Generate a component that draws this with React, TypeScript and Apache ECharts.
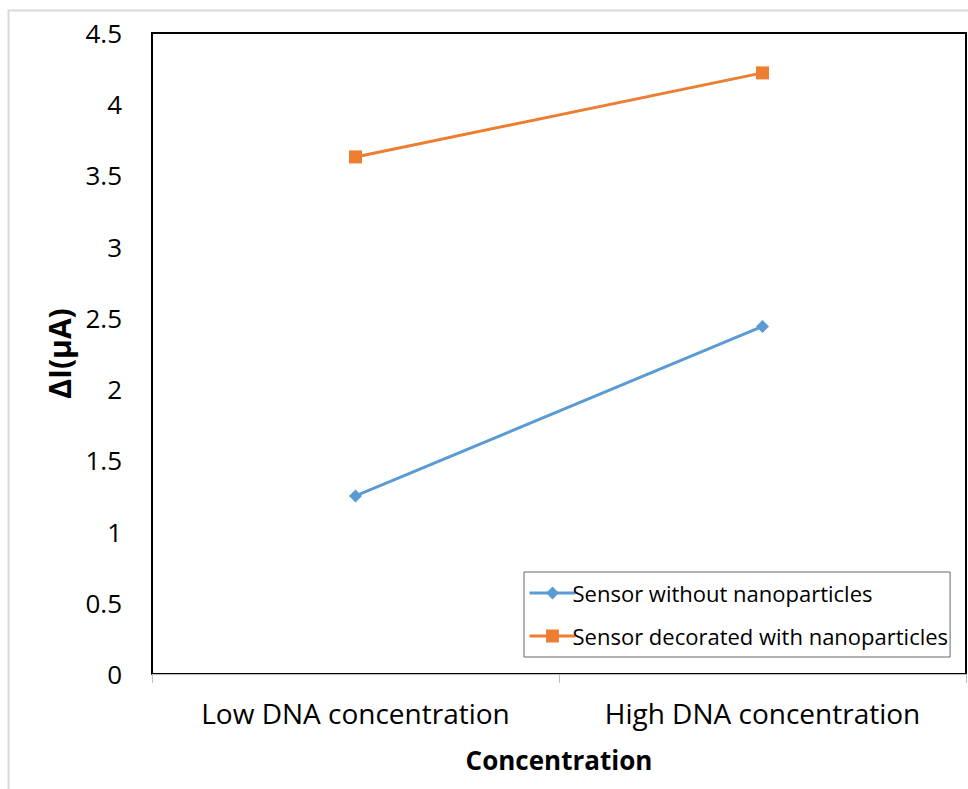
import React, { useEffect, useRef } from "react";
import * as echarts from "echarts";

const categories = ["Low DNA concentration", "High DNA concentration"];
const withoutNano = [1.25, 2.44];
const withNano = [3.63, 4.22];
const seriesNames = ["Sensor without nanoparticles", "Sensor decorated with nanoparticles"];
const yTitle = "ΔI(μA)";
const xTitle = "Concentration";

const FONT = "'Open Sans', 'Noto Sans', sans-serif";

export default function App() {
  const ref = useRef<HTMLDivElement>(null);

  useEffect(() => {
    if (!ref.current) return;
    const chart = echarts.init(ref.current, undefined, { renderer: "svg" });
    chart.setOption({
      animation: false,
      backgroundColor: "#fff",
      textStyle: { fontFamily: FONT },
      grid: {
        left: 152,
        right: 2,
        top: 33,
        bottom: 115,
        show: true,
        borderColor: "#000",
        borderWidth: 2,
        backgroundColor: "transparent",
      },
      legend: {
        left: 524,
        top: 572,
        orient: "vertical",
        itemWidth: 46,
        itemHeight: 16,
        itemGap: 21,
        padding: [10, 2, 10, 4],
        borderColor: "#666",
        borderWidth: 1,
        backgroundColor: "#fff",
        lineStyle: { width: 3 },
        textStyle: { fontSize: 22, color: "#000", fontFamily: FONT, padding: [0, 0, 0, -8] },
        data: [seriesNames[0], seriesNames[1]],
      },
      xAxis: {
        type: "category",
        data: categories,
        boundaryGap: true,
        offset: 2,
        axisLine: { show: true, lineStyle: { color: "#bfbfbf", width: 1 } },
        axisTick: { show: true, length: 9, lineStyle: { color: "#bfbfbf" } },
        axisLabel: {
          interval: 0,
          hideOverlap: false,
          fontSize: 28,
          color: "#000",
          margin: 23,
          fontFamily: FONT,
        },
        name: xTitle,
        nameLocation: "middle",
        nameGap: 71,
        nameTextStyle: { fontSize: 26, fontWeight: "bold", color: "#000", fontFamily: FONT },
      },
      yAxis: {
        type: "value",
        min: 0,
        max: 4.5,
        interval: 0.5,
        axisLine: { show: false },
        axisTick: { show: false },
        splitLine: { show: false },
        axisLabel: { fontSize: 26, color: "#000", margin: 30, fontFamily: FONT },
        name: yTitle,
        nameLocation: "middle",
        nameGap: 77,
        nameRotate: 90,
        nameTextStyle: { fontSize: 30, fontWeight: "bold", color: "#000", fontFamily: FONT },
      },
      graphic: [
        {
          type: "polyline",
          silent: true,
          shape: { points: [[8.5, 789], [8.5, 10.5], [968, 10.5]] },
          style: { stroke: "#d9d9d9", lineWidth: 2, fill: "none" },
        },
      ],
      series: [
        {
          name: seriesNames[0],
          type: "line",
          data: withoutNano,
          symbol: "diamond",
          symbolSize: 13,
          itemStyle: { color: "#5b9bd5" },
          lineStyle: { color: "#5b9bd5", width: 3 },
        },
        {
          name: seriesNames[1],
          type: "line",
          data: withNano,
          symbol: "rect",
          symbolSize: 13,
          itemStyle: { color: "#ed7d31" },
          lineStyle: { color: "#ed7d31", width: 3 },
        },
      ],
    });
    return () => chart.dispose();
  }, []);

  return (
    <div
      ref={ref}
      style={{ position: "fixed", left: 0, top: 0, width: 968, height: 789 }}
    />
  );
}
